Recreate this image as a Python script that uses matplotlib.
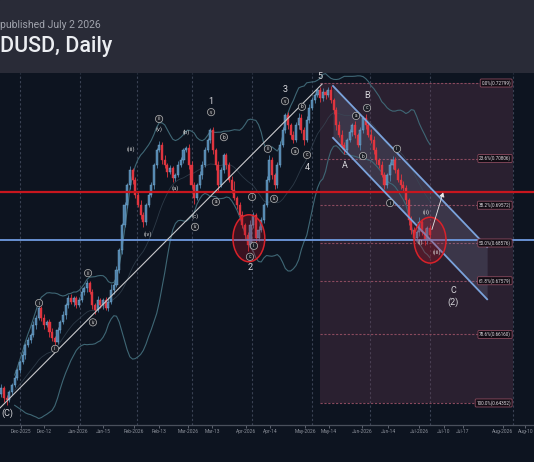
import numpy as np
import pandas as pd
import matplotlib
matplotlib.use("Agg")
import matplotlib.pyplot as plt
from matplotlib.patches import Rectangle, Ellipse, FancyArrowPatch

plt.rcParams['font.family'] = ['Roboto', 'DejaVu Sans']

# ---------------- data (prices in pips, 1e-4) ----------------
start_bar = -7            # bar index of first candle (0 = Dec 1 2025)
first_open = 6460
closes = [
    6475, 6448, 6443, 6464, 6483, 6501, 6522, 6543, 6562, 6588,
    6601, 6615, 6641, 6659, 6686, 6659, 6641, 6649, 6622, 6607,
    6596, 6628, 6649, 6667, 6694, 6712, 6702, 6712, 6694, 6707,
    6728, 6739, 6752, 6728, 6694, 6681, 6707, 6694, 6707, 6686,
    6702, 6733, 6747, 6786, 6839, 6905, 6958, 7011, 7050, 7024,
    6984, 6958, 6931, 6913, 6958, 6984, 7011, 7063, 7103, 7116,
    7077, 7063, 7045, 7055, 7029, 7037, 7063, 7077, 7103, 7108,
    7063, 7011, 6976, 7011, 7037, 7063, 7103, 7129, 7156, 7103,
    7063, 7011, 7050, 7090, 7063, 7024, 6997, 6976, 6958, 6931,
    6905, 6879, 6852, 6905, 6931, 6871, 6892, 6918, 6958, 7024,
    7077, 7037, 7011, 7063, 7116, 7156, 7195, 7169, 7143, 7129,
    7169, 7187, 7156, 7129, 7182, 7214, 7235, 7248, 7261, 7240,
    7256, 7248, 7261, 7235, 7209, 7169, 7143, 7116, 7103, 7129,
    7151, 7169, 7143, 7116, 7156, 7187, 7169, 7143, 7129, 7103,
    7077, 7063, 7037, 7011, 7037, 7063, 7077, 7050, 7024, 7011,
    7003, 6971, 6918, 6892, 6871, 6887, 6913, 6887, 6865, 6897,
    6878,
]
upper_wicks = [
    10, 6, 8, 5, 6, 8, 5, 6, 10, 5,
    8, 6, 10, 8, 5, 6, 12, 6, 8, 10,
    6, 8, 5, 10, 6, 8, 12, 6, 5, 8,
    10, 6, 8, 5, 8, 6, 10, 5, 6, 8,
    12, 15, 8, 10, 6, 5, 8, 6, 10, 5,
    8, 10, 14, 8, 6, 10, 8, 5, 6, 10,
    8, 12, 6, 8, 5, 6, 10, 8, 6, 5,
    10, 12, 8, 6, 10, 12, 8, 6, 5, 8,
    6, 10, 8, 5, 6, 8, 10, 25, 6, 8,
    10, 6, 8, 12, 8, 6, 10, 8, 6, 10,
    12, 8, 6, 8, 10, 8, 5, 8, 6, 10,
    8, 15, 10, 8, 12, 10, 8, 6, 5, 8,
    10, 6, 8, 10, 6, 8, 10, 12, 8, 6,
    8, 5, 10, 6, 8, 6, 10, 8, 15, 10,
    8, 6, 10, 8, 6, 8, 10, 8, 6, 15,
    10, 8, 6, 10, 8, 6, 12, 8, 10, 6,
    8,
]
lower_wicks = [
    8, 10, 12, 6, 8, 5, 6, 8, 5, 10,
    6, 8, 5, 10, 6, 8, 10, 6, 12, 8,
    10, 6, 8, 5, 10, 8, 6, 10, 8, 6,
    5, 8, 10, 6, 12, 10, 6, 8, 10, 6,
    8, 5, 10, 6, 8, 10, 6, 8, 12, 10,
    8, 6, 10, 12, 8, 6, 5, 10, 8, 6,
    10, 8, 12, 6, 10, 8, 6, 5, 8, 6,
    10, 8, 15, 6, 8, 10, 6, 5, 8, 10,
    12, 15, 6, 8, 10, 6, 8, 6, 10, 8,
    8, 10, 15, 6, 8, 12, 8, 6, 8, 5,
    6, 10, 12, 8, 6, 5, 8, 10, 12, 8,
    6, 10, 8, 12, 6, 8, 5, 8, 6, 10,
    8, 10, 6, 8, 10, 12, 6, 8, 10, 8,
    6, 10, 8, 6, 12, 8, 10, 6, 8, 10,
    12, 8, 6, 10, 8, 15, 10, 8, 6, 10,
    8, 10, 12, 10, 8, 12, 10, 8, 12, 10,
    8,
]

fib_high = 0.72799
fib_low = 0.64352
fib_ratios = [0.0, 0.236, 0.382, 0.5, 0.618, 0.786, 1.0]
red_level = 0.69922
blue_level = 0.68641

tick_labels = ["Dec-2025", "Dec-12", "Jan-2026", "Jan-15", "Feb-2026", "Feb-13",
               "Mar-2026", "Mar-13", "Apr-2026", "Apr-14", "May-2026", "May-14",
               "Jun-2026", "Jun-14", "Jul-2026", "Jul-10", "Jul-17", "Aug-2026", "Aug-10"]
tick_bars = [0.2, 9.0, 21.6, 31.0, 42.5, 51.9, 62.7, 71.6, 84.3, 93.3, 106.3,
             115.3, 127.6, 137.3, 148.9, 158.2, 165.3, 180.2, 188.6]
month_grid_bars = [0, 22.4, 43.7, 64.2, 86.6, 109.0, 130.6, 153.0, 184.0]

# wave labels: (bar, price, text, circled)
wave_labels = [
    (7.1, 0.6699, "i", True), (13.1, 0.6578, "ii", True), (25.4, 0.6778, "iii", True),
    (27.2, 0.6648, "iv", True), (41.4, 0.7106, "(iii)", False), (47.8, 0.6881, "(iv)", False),
    (51.9, 0.7185, "iii", True), (51.9, 0.7158, "(v)", False), (57.8, 0.7003, "(a)", False),
    (61.9, 0.7151, "(b)", False), (65.3, 0.6929, "(c)", False), (65.3, 0.6900, "iv", True),
    (71.3, 0.7203, "v", True), (76.1, 0.7137, "b", True), (73.1, 0.6966, "a", True),
    (86.6, 0.6979, "i", True), (87.3, 0.6850, "ii", True), (85.8, 0.6821, "c", True),
    (92.5, 0.7106, "iii", True), (94.8, 0.6974, "iv", True), (98.9, 0.7232, "v", True),
    (105.2, 0.7217, "b", True), (102.6, 0.7100, "a", True), (107.1, 0.7090, "c", True),
    (129.5, 0.7214, "c", True), (125.4, 0.7193, "a", True), (128.0, 0.7087, "b", True),
    (140.7, 0.7106, "ii", True), (138.1, 0.6963, "i", True), (151.5, 0.6939, "(ii)", False),
    (149.6, 0.6860, "(i)", False), (155.5, 0.6834, "(iii)", False),
]
big_labels = [
    (71.3, 0.7230, "1"), (85.8, 0.6792, "2"), (98.9, 0.7264, "3"), (107.1, 0.7058, "4"),
    (111.9, 0.7296, "5"), (121.3, 0.7063, "A"), (129.5, 0.7246, "B"),
    (161.6, 0.6733, "C"), (161.6, 0.6702, "(2)"), (-4.6, 0.6409, "(C)"),
]
trend_line = [(-7.46, 0.6422), (112.7, 0.7277)]
channel_upper = [(116.8, 0.7272), (174.3, 0.6847)]
channel_lower = [(116.8, 0.7135), (174.3, 0.6709)]
arrow_pts = [(153.4, 0.6886), (158.2, 0.6998)]
ellipses = [(85.4, 0.6870, 11.9, 0.0124), (153.0, 0.6865, 11.9, 0.0121)]

# ---------------- figure ----------------
W, H = 534, 462
fig = plt.figure(figsize=(W / 100, H / 100), dpi=100, facecolor="#0d1420")
header_h = 73 / H
fig.add_artist(Rectangle((0, 1 - header_h), 1, header_h, transform=fig.transFigure,
                         color="#292b37", zorder=0))
fig.text(0.5 / W, 1 - 28 / H, "published July 2 2026", fontsize=7.5, color="#a0a3ad",
         va="baseline", ha="left")
fig.text(0.5 / W, 1 - 52 / H, "DUSD, Daily", fontsize=15.5, color="#eceef2",
         va="baseline", ha="left", weight="medium")

ax_bottom = (H - 425) / H
ax_h = (425 - 73) / H
ax = fig.add_axes([0, ax_bottom, 1, ax_h])
ax.set_facecolor("#0d1420")

c = np.array(closes) / 1e4
o = np.concatenate([[first_open / 1e4], c[:-1]])
hi = np.maximum(o, c) + np.array(upper_wicks) / 1e4
lo = np.minimum(o, c) - np.array(lower_wicks) / 1e4
x = np.arange(len(c)) + start_bar

px_per_bar = 2.68
ax.set_xlim(-20 / px_per_bar, (W - 20) / px_per_bar)
ax.set_ylim(0.63770, 0.73063)

# month grid
for g in month_grid_bars:
    ax.axvline(g, color="#3a4254", lw=0.8, ls=(0, (2, 2)), zorder=0.5)

# fib box
ax.add_patch(Rectangle((111.9, fib_low), 184.0 - 111.9, fib_high - fib_low,
                       facecolor="#6a3a52", alpha=0.32, edgecolor="none", zorder=1))
for r in fib_ratios:
    lvl = fib_high - r * (fib_high - fib_low)
    ax.plot([111.9, 173.0], [lvl, lvl], color="#8a4a5e", lw=0.8, ls=(0, (2, 1.5)), zorder=1.5)
    ax.text(183.2, lvl, f"{r*100:.1f}%({lvl:.5f})", fontsize=3.3, color="#e0dde2",
            ha="right", va="center", zorder=8,
            bbox=dict(boxstyle="round,pad=0.25", fc="#120c14", ec="#8a4a5e", lw=0.6))

# channel
ux = [p[0] for p in channel_upper]; uy = [p[1] for p in channel_upper]
lx = [p[0] for p in channel_lower]; ly = [p[1] for p in channel_lower]
ax.fill_between(ux, uy, ly, color="#8d9bc0", alpha=0.18, lw=0, zorder=2)
ax.plot(ux, uy, color="#7ba3dc", lw=1.3, zorder=6)
ax.plot(lx, ly, color="#7ba3dc", lw=1.3, zorder=6)

# bollinger bands
s = pd.Series(c)
mid = s.rolling(20, min_periods=6).mean()
sd = s.rolling(20, min_periods=6).std(ddof=0)
ax.plot(x, mid + 2 * sd, color="#3f6775", lw=0.8, zorder=3)
ax.plot(x, mid - 2 * sd, color="#3f6775", lw=0.8, zorder=3)
ax.plot(x, mid, color="#3a4a58", lw=0.6, alpha=0.7, zorder=3)

# candles
up = c >= o
up_col, dn_col = "#4f82aa", "#e0353f"
cols = np.where(up, up_col, dn_col)
ax.vlines(x, lo, hi, colors=cols, lw=0.6, zorder=4)
body_h = np.maximum(np.abs(c - o), 0.00012)
ax.bar(x, body_h, bottom=np.minimum(o, c), width=0.78, color=cols,
       edgecolor=np.where(up, "#7fb2d6", dn_col), linewidth=0.3, zorder=4.5)

# horizontal levels
ax.axhline(red_level, color="#c8161e", lw=1.6, zorder=5)
ax.axhline(blue_level, color="#6f9be0", lw=1.3, zorder=5)

# trend line
ax.plot([p[0] for p in trend_line], [p[1] for p in trend_line], color="#c9c9cc", lw=0.8, zorder=5.5)

# arrow
ax.add_patch(FancyArrowPatch(arrow_pts[0], arrow_pts[1], arrowstyle="-|>,head_length=2.5,head_width=1.5",
                             color="#e8e8e8", lw=0.6, zorder=7))

# ellipses
for ex, ey, ew, eh in ellipses:
    ax.add_patch(Ellipse((ex, ey), ew, eh, facecolor="#b01020", alpha=0.28, edgecolor="none", zorder=6))
    ax.add_patch(Ellipse((ex, ey), ew, eh, facecolor="none", edgecolor="#d8222a", lw=1.1, zorder=6.5))

# labels
for bx, py, t, circ in wave_labels:
    if circ:
        ax.text(bx, py, t, fontsize=3.3, color="#d8d8d8", ha="center", va="center", zorder=9,
                bbox=dict(boxstyle="circle,pad=0.25", fc="#1b1e26", ec="#b8b8b8", lw=0.5))
    else:
        ax.text(bx, py, t, fontsize=4.2, color="#d8d8d8", ha="center", va="center", zorder=9)
for bx, py, t in big_labels:
    ax.text(bx, py, t, fontsize=6.5, color="#d8d8dc", ha="center", va="center", zorder=9)

# axes styling
for sp in ["top", "right", "left"]:
    ax.spines[sp].set_visible(False)
ax.spines["bottom"].set_color("#4a505c")
ax.spines["bottom"].set_linewidth(0.9)
ax.set_yticks([])
ax.set_xticks(tick_bars)
ax.set_xticklabels(tick_labels)
ax.tick_params(axis="x", colors="#6a707c", length=2, width=0.6, pad=1.2, labelsize=3.5,
               labelcolor="#8d929c")

fig.savefig("out.png", dpi=100, facecolor=fig.get_facecolor())
